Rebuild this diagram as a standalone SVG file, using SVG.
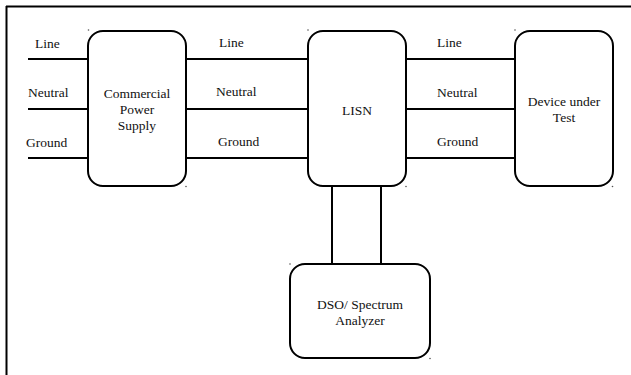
<svg xmlns="http://www.w3.org/2000/svg" width="631" height="375" viewBox="0 0 631 375">
<style>
.box{fill:#fff;stroke:#000;stroke-width:2}
.wire{stroke:#000;stroke-width:2;fill:none}
.t{font-family:'Liberation Serif','Times New Roman','DejaVu Serif',serif;font-size:13.5px;fill:#111}
.c{text-anchor:middle}
.dot{fill:#555}
</style>
<rect width="631" height="375" fill="#fff"/>
<g id="frame">
<line x1="6" y1="6.5" x2="631" y2="6.5" class="wire"/>
<line x1="6.5" y1="6" x2="6.5" y2="375" class="wire" stroke-width="2.5"/>
</g>
<g id="connectors">
<line class="wire" x1="28" y1="59" x2="88" y2="59"/>
<line class="wire" x1="28" y1="109" x2="88" y2="109"/>
<line class="wire" x1="28" y1="158" x2="88" y2="158"/>
<line class="wire" x1="186" y1="59" x2="308" y2="59"/>
<line class="wire" x1="186" y1="109" x2="308" y2="109"/>
<line class="wire" x1="186" y1="158" x2="308" y2="158"/>
<line class="wire" x1="406" y1="59" x2="515" y2="59"/>
<line class="wire" x1="406" y1="109" x2="515" y2="109"/>
<line class="wire" x1="406" y1="158" x2="515" y2="158"/>
<line class="wire" x1="332" y1="186" x2="332" y2="264"/>
<line class="wire" x1="381" y1="186" x2="381" y2="264"/>
<g class="t" font-family="Liberation Serif, serif">
<text x="35" y="48">Line</text>
<text x="28" y="97">Neutral</text>
<text x="26" y="147">Ground</text>
<text x="219" y="47">Line</text>
<text x="216" y="96">Neutral</text>
<text x="218" y="146">Ground</text>
<text x="437" y="47">Line</text>
<text x="437" y="97">Neutral</text>
<text x="437" y="146">Ground</text>
</g>
</g>
<g id="cps" class="t">
<rect class="box" x="88" y="31" width="98" height="155" rx="15"/>
<text class="c" x="137" y="98">Commercial</text>
<text class="c" x="137" y="114">Power</text>
<text class="c" x="137" y="130">Supply</text>
</g>
<g id="lisn" class="t">
<rect class="box" x="308" y="31" width="98" height="155" rx="15"/>
<text class="c" x="357" y="115">LISN</text>
</g>
<g id="dut" class="t">
<rect class="box" x="515" y="31" width="98" height="155" rx="15"/>
<text class="c" x="564" y="106">Device under</text>
<text class="c" x="564" y="122">Test</text>
</g>
<g id="dso" class="t">
<rect class="box" x="290" y="264" width="140" height="94" rx="15"/>
<text class="c" x="360" y="309">DSO/ Spectrum</text>
<text class="c" x="360" y="325">Analyzer</text>
</g>
<g id="dots">
<circle class="dot" cx="88.5" cy="30" r="0.8"/>
<circle class="dot" cx="186" cy="186.5" r="0.8"/>
<circle class="dot" cx="308" cy="30" r="0.8"/>
<circle class="dot" cx="406" cy="186.5" r="0.8"/>
<circle class="dot" cx="515" cy="30" r="0.8"/>
<circle class="dot" cx="612.5" cy="186.5" r="0.8"/>
<circle class="dot" cx="290" cy="264" r="0.8"/>
<circle class="dot" cx="430" cy="358.5" r="0.8"/>
</g>
</svg>
